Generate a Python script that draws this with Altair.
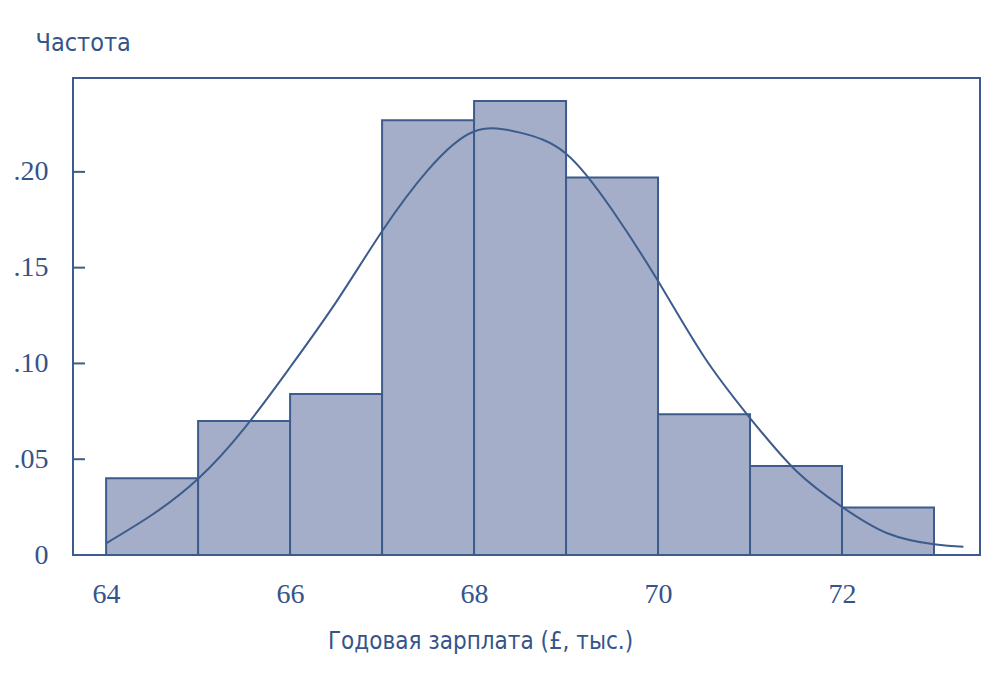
import altair as alt
import pandas as pd

# Histogram bins (annual salary, thousand £) and relative frequencies
bin_start = [64, 65, 66, 67, 68, 69, 70, 71, 72]
bin_end = [65, 66, 67, 68, 69, 70, 71, 72, 73]
freq = [0.040, 0.070, 0.084, 0.227, 0.237, 0.197, 0.0735, 0.0465, 0.0248]

# Smooth density curve points
curve_x = [64.0, 64.5, 65.0, 65.5, 66.0, 66.5, 67.0, 67.5, 68.0, 68.5,
           69.0, 69.5, 70.0, 70.5, 71.0, 71.5, 72.0, 72.5, 73.0, 73.32]
curve_y = [0.0061, 0.021, 0.0398, 0.066, 0.098, 0.132, 0.169, 0.201, 0.2211,
           0.2205, 0.2095, 0.1802, 0.143, 0.1035, 0.0715, 0.044, 0.0251,
           0.0112, 0.0056, 0.0043]

y_ticks = [0, 0.05, 0.10, 0.15, 0.20]
x_ticks = [64, 66, 68, 70, 72]

BLUE = "#3d5b8c"
FILL = "#a4aec8"
TEXT = "#34548a"
SERIF = "Liberation Serif, DejaVu Serif, serif"
SANS = "DejaVu Sans Condensed, Roboto, sans-serif"

bars_df = pd.DataFrame({"start": bin_start, "end": bin_end, "freq": freq})
curve_df = pd.DataFrame({"x": curve_x, "y": curve_y})
ticks_df = pd.DataFrame({"t": y_ticks})

xscale = alt.Scale(domain=[63.64, 73.5], nice=False, zero=False)
yscale = alt.Scale(domain=[0, 0.249], nice=False)

label_expr = "datum.value == 0 ? '0' : replace(format(datum.value, '.2f'), '0.', '.')"

bars = alt.Chart(bars_df).mark_rect(fill=FILL, stroke=BLUE, strokeWidth=2).encode(
    x=alt.X("start:Q", scale=xscale,
            axis=alt.Axis(values=x_ticks, format="d", title="Годовая зарплата (£, тыс.)",
                          domain=False, ticks=False, tickSize=0, grid=False,
                          labelPadding=25, labelFont=SERIF, labelFontSize=28,
                          labelColor=TEXT, titleFont=SANS, titleFontSize=24,
                          titleFontWeight="normal", titleColor=TEXT,
                          titleX=407, titleY=93, titleAlign="center",
                          titleBaseline="alphabetic")),
    x2="end:Q",
    y=alt.Y("freq:Q", scale=yscale,
            axis=alt.Axis(values=y_ticks, title="Частота", labelExpr=label_expr,
                          domain=False, ticks=False, tickSize=0, grid=False,
                          labelPadding=25, labelFont=SERIF, labelFontSize=28,
                          labelColor=TEXT, titleFont=SANS, titleFontSize=25,
                          titleFontWeight="normal", titleColor=TEXT,
                          titleAngle=0, titleX=-38, titleY=-28,
                          titleAlign="left", titleBaseline="alphabetic")),
    y2=alt.datum(0),
)

curve = alt.Chart(curve_df).mark_line(color=BLUE, strokeWidth=2,
                                      interpolate="natural").encode(
    x=alt.X("x:Q", scale=xscale),
    y=alt.Y("y:Q", scale=yscale),
)

ticks = alt.Chart(ticks_df).mark_rule(color=BLUE, strokeWidth=2).encode(
    y=alt.Y("t:Q", scale=yscale),
    x=alt.value(0),
    x2=alt.value(12),
)

chart = alt.layer(bars, curve, ticks).properties(
    width=907,
    height=477,
    autosize=alt.AutoSizeParams(type="none"),
    padding={"left": 73, "top": 78, "right": 20, "bottom": 120},
    background="white",
).configure_view(stroke=BLUE, strokeWidth=2)

chart.save("out.html", embed_options={"renderer": "svg", "actions": False})
